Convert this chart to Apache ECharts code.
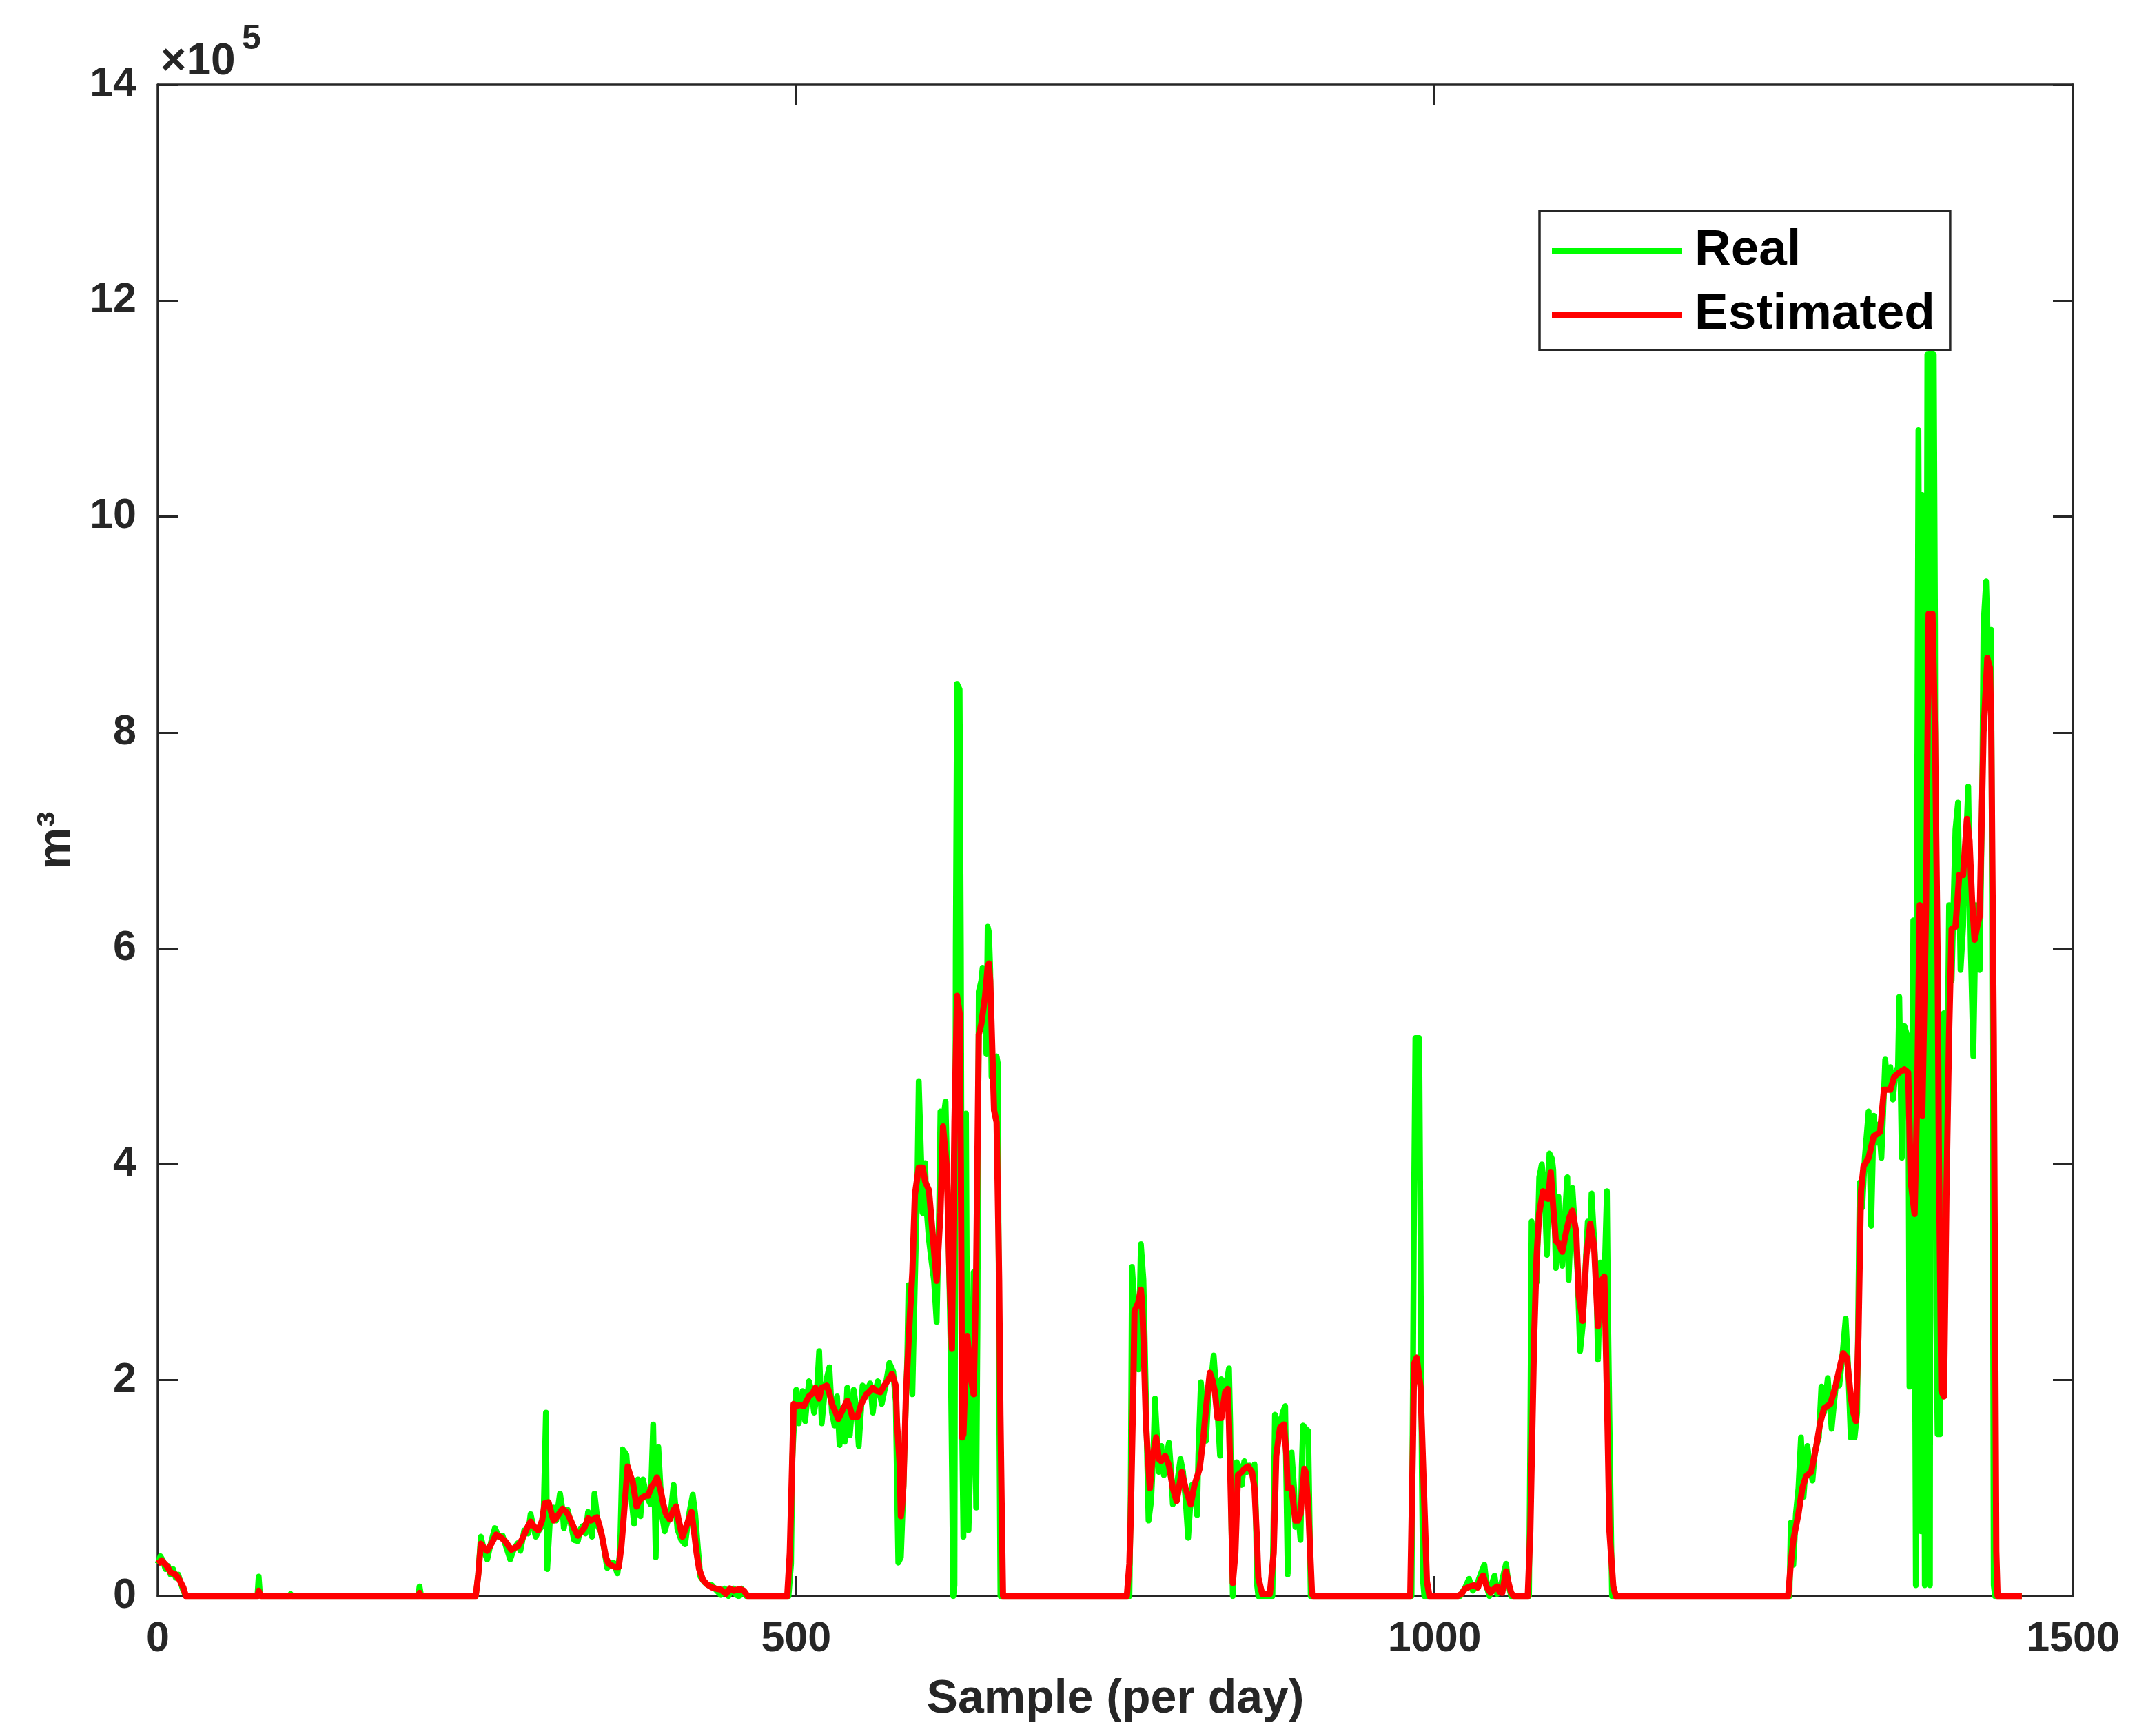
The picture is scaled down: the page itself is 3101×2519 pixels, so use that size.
<!DOCTYPE html>
<html>
<head>
<meta charset="utf-8">
<script src="https://cdn.jsdelivr.net/npm/echarts@6/dist/echarts.min.js"></script>
<style>
html,body{margin:0;padding:0;background:#fff;}
#chart{width:3101px;height:2519px;}
</style>
</head>
<body>
<div id="chart"></div>
<script>
// Values in units of 1e5 m^3, as [sample, value]
const xTicks = [0, 500, 1000, 1500];
const yTicks = [0, 2, 4, 6, 8, 10, 12, 14];
const seriesNames = ['Real', 'Estimated'];

const realPoints = [
[0,0.30],[2,0.37],[4,0.33],[6,0.25],[8,0.28],[10,0.20],[12,0.25],[14,0.17],[16,0.20],[18,0.12],[20,0.05],[22,0],
[78,0],[79,0.18],[80,0.02],[81,0],[103,0],[104,0.02],[105,0],[154,0],[155,0.01],[156,0],
[204,0],[205,0.09],[206,0.02],[207,0],
[249,0],[251,0.2],[253,0.55],[256,0.40],[258,0.34],[261,0.50],[264,0.63],[267,0.55],[270,0.56],[273,0.45],[276,0.34],[279,0.44],
[282,0.49],[284,0.42],[287,0.61],[290,0.58],[292,0.76],[294,0.65],[296,0.55],[299,0.62],[302,0.66],[304,1.70],[305,0.25],[307,0.68],
[310,0.82],[312,0.70],[315,0.95],[317,0.80],[318,0.63],[321,0.80],[323,0.70],[326,0.52],[329,0.51],[331,0.62],[333,0.65],[335,0.58],
[337,0.78],[339,0.70],[340,0.55],[342,0.95],[345,0.64],[347,0.60],[349,0.48],[352,0.26],[355,0.30],[357,0.31],[360,0.21],[362,0.40],
[364,1.36],[367,1.31],[369,1.00],[371,0.90],[373,0.67],[376,1.08],[378,0.74],[380,1.08],[383,0.92],[386,0.85],[388,1.59],[390,0.36],
[392,1.38],[395,0.74],[397,0.60],[400,0.72],[402,0.80],[404,1.03],[407,0.62],[410,0.52],[413,0.48],[416,0.75],[419,0.94],[421,0.75],
[423,0.45],[425,0.18],[428,0.13],[431,0.10],[434,0.10],[437,0.06],[441,0.01],[444,0.07],[447,0],[449,0.05],[451,0.07],[453,0.01],
[455,0],[457,0.07],[459,0.02],[461,0],
[494,0],[496,0.3],[497,1.28],[499,1.76],[500,1.91],[502,1.60],[505,1.90],[507,1.62],[510,1.99],[512,1.90],[514,1.70],[516,1.85],
[518,2.27],[520,1.60],[522,1.85],[524,2.02],[526,2.12],[528,1.70],[530,1.58],[532,1.85],[534,1.40],[536,1.74],[538,1.43],[540,1.93],
[542,1.49],[545,1.91],[547,1.75],[549,1.39],[552,1.95],[555,1.90],[558,1.97],[560,1.70],[562,1.90],[564,1.99],[567,1.78],[570,1.95],
[573,2.16],[576,2.08],[578,1.80],[579,1.03],[580,0.31],[582,0.36],[584,1.0],[585,1.45],[587,2.2],[588,2.88],[590,2.4],[591,1.87],
[593,2.92],[595,3.9],[596,4.77],[598,4.0],[599,3.55],[601,4.01],[602,3.6],[604,3.30],[606,3.1],[608,2.92],[610,2.54],[612,3.6],
[613,4.49],[615,4.4],[617,4.58],[619,3.55],[621,2.29],[622,1.2],[623,0],[624,0.1],[625,6.0],[626,8.45],[628,8.4],[629,6.0],
[630,1.5],[631,0.55],[632,2.5],[633,4.47],[634,2.0],[635,0.61],[637,1.5],[639,3.0],[640,2.0],[641,0.82],[642,2.5],[643,5.6],
[645,5.7],[646,5.82],[648,5.4],[649,5.02],[650,6.2],[651,6.15],[652,5.8],[653,4.81],[655,4.9],[657,5.0],[658,4.93],[659,1.87],[660,0],
[761,0],[762,0.9],[763,3.05],[765,2.7],[766,2.72],[768,2.1],[770,3.26],[772,2.93],[774,1.8],[776,0.70],[778,0.88],[780,1.4],
[781,1.83],[783,1.4],[784,1.15],[786,1.39],[788,1.12],[790,1.3],[792,1.42],[794,1.1],[795,0.85],[797,0.91],[799,1.1],[801,1.27],
[803,1.15],[805,0.9],[807,0.54],[809,0.9],[810,1.03],[812,1.0],[814,0.75],[815,1.3],[817,1.98],[819,1.7],[821,1.44],[823,1.89],
[825,2.0],[827,2.23],[829,1.9],[830,1.71],[832,1.30],[833,2.01],[836,1.9],[839,2.11],[840,1.59],[841,0.6],[842,0],[843,0.5],
[845,1.24],[847,1.2],[849,1.03],[851,1.25],[853,1.15],[855,1.21],[857,1.15],[859,1.22],[860,0.8],[861,0.1],[862,0],
[873,0],[874,0.8],[875,1.68],[877,1.62],[879,1.55],[881,1.7],[883,1.76],[884,1.0],[885,0.2],[886,0.9],[888,1.33],[890,1.0],
[891,0.64],[893,0.8],[895,0.52],[896,1.2],[897,1.58],[899,1.55],[901,1.53],[902,0.8],[903,0],
[982,0],[984,3.73],[985,5.17],[988,5.17],[989,3.27],[990,1.22],[991,0.14],[992,0],
[1020,0],[1024,0.08],[1027,0.16],[1030,0.05],[1033,0.10],[1036,0.20],[1039,0.29],[1041,0.08],[1043,0],[1045,0.12],[1047,0.19],
[1049,0.02],[1051,0.05],[1054,0.2],[1056,0.30],[1058,0.1],[1060,0],
[1074,0],[1075,1.5],[1076,3.47],[1078,3.2],[1080,2.91],[1082,3.88],[1084,4.0],[1085,3.9],[1087,3.5],[1088,3.16],[1090,4.1],
[1092,4.05],[1093,3.95],[1095,3.04],[1097,3.7],[1098,3.3],[1100,3.06],[1102,3.5],[1104,3.88],[1105,2.93],[1107,3.5],[1108,3.78],
[1110,3.4],[1112,3.0],[1114,2.27],[1116,2.5],[1118,3.0],[1120,3.47],[1122,3.3],[1123,3.73],[1125,3.3],[1127,2.8],[1128,2.19],
[1130,3.09],[1132,2.6],[1133,2.9],[1135,3.75],[1136,2.5],[1137,1.62],[1139,0],
[1278,0],[1279,0.68],[1281,0.29],[1283,0.76],[1285,1.0],[1287,1.47],[1289,0.92],[1292,1.39],[1294,1.2],[1296,1.07],[1298,1.35],
[1301,1.47],[1303,1.94],[1305,1.70],[1308,2.02],[1311,1.55],[1313,1.8],[1315,2.02],[1317,1.95],[1319,2.17],[1322,2.57],[1324,2.1],
[1326,1.47],[1329,1.47],[1331,1.70],[1333,3.83],[1335,3.6],[1337,4.06],[1340,4.49],[1342,3.43],[1344,4.45],[1346,4.2],[1348,4.37],
[1350,4.06],[1353,4.97],[1355,4.7],[1357,4.9],[1359,4.6],[1361,4.85],[1363,4.9],[1364,5.55],[1366,4.06],[1368,5.28],[1371,5.16],
[1372,1.94],[1374,3.47],[1375,6.26],[1376,3.5],[1377,0.1],[1378,7.2],[1379,10.8],[1380,8.0],[1381,0.6],[1382,10.2],[1383,5.0],
[1384,0.1],[1385,6.0],[1386,11.5],[1387,6.0],[1388,0.1],[1389,11.55],[1390,4.6],[1391,11.5],[1392,9.0],[1393,2.6],[1394,1.5],
[1395,2.0],[1396,1.5],[1397,3.0],[1399,5.4],[1401,4.0],[1403,6.4],[1405,5.7],[1408,7.1],[1410,7.35],[1412,5.8],[1414,6.2],
[1416,6.9],[1418,7.5],[1420,6.0],[1422,5.0],[1424,6.4],[1426,6.2],[1427,5.8],[1429,7.5],[1430,9.0],[1432,9.4],[1434,8.6],
[1436,8.95],[1437,5.0],[1438,0.1],[1439,0],[1460,0]
];

const estimatedPoints = [
[0,0.30],[3,0.33],[7,0.28],[10,0.22],[14,0.20],[17,0.15],[20,0.08],[22,0],
[78,0],[79,0.05],[80,0.02],[81,0],[204,0],[205,0.03],[206,0],
[249,0],[251,0.2],[253,0.485],[256,0.44],[258,0.42],[262,0.50],[265,0.57],[268,0.55],[272,0.51],[275,0.46],[277,0.43],[280,0.45],
[282,0.46],[285,0.52],[287,0.57],[290,0.65],[292,0.69],[295,0.64],[298,0.61],[301,0.70],[303,0.86],[306,0.87],[308,0.78],[310,0.70],
[313,0.74],[317,0.81],[320,0.78],[322,0.74],[326,0.63],[329,0.56],[332,0.60],[334,0.63],[337,0.72],[339,0.70],[341,0.71],[344,0.73],
[346,0.65],[348,0.55],[351,0.36],[353,0.30],[356,0.28],[358,0.27],[361,0.27],[363,0.45],[365,0.74],[368,1.20],[370,1.12],[372,1.06],
[375,0.83],[377,0.88],[379,0.91],[382,0.93],[384,0.93],[387,1.02],[389,1.05],[391,1.10],[394,0.97],[396,0.85],[398,0.76],[401,0.71],
[404,0.80],[406,0.83],[408,0.70],[411,0.55],[414,0.65],[418,0.78],[420,0.60],[422,0.40],[424,0.25],[427,0.15],[430,0.11],[434,0.08],
[437,0.07],[441,0.06],[445,0.02],[448,0.07],[451,0.05],[454,0.06],[457,0.06],[459,0.05],[462,0],
[493,0],[495,0.40],[497,1.3],[498,1.78],[500,1.76],[503,1.77],[506,1.76],[510,1.85],[513,1.88],[515,1.93],[518,1.83],[520,1.93],
[524,1.95],[526,1.88],[528,1.78],[531,1.70],[533,1.64],[537,1.74],[540,1.81],[542,1.75],[544,1.66],[548,1.66],[551,1.78],[555,1.87],
[558,1.90],[560,1.93],[563,1.90],[566,1.89],[569,1.95],[572,2.00],[575,2.06],[578,1.95],[579,1.6],[581,1.24],[582,0.74],[583,0.85],
[584,1.03],[586,1.87],[589,2.58],[591,3.0],[593,3.72],[596,3.97],[599,3.97],[601,3.84],[604,3.76],[607,3.34],[610,2.92],[613,3.55],
[615,4.35],[618,3.97],[620,3.0],[622,2.29],[624,4.39],[626,5.56],[628,5.40],[629,4.0],[630,1.47],[631,1.5],[633,2.2],[634,2.41],
[637,2.0],[639,1.87],[641,3.0],[643,5.2],[645,5.3],[648,5.56],[650,5.83],[651,5.86],[652,5.7],[654,4.9],[655,4.5],[657,4.39],
[659,2.92],[660,1.67],[661,0.8],[662,0],
[759,0],[761,0.3],[762,0.70],[764,1.89],[765,2.64],[768,2.72],[770,2.84],[771,2.7],[772,2.4],[774,1.59],[777,1.0],[779,1.27],
[782,1.47],[784,1.27],[786,1.25],[789,1.30],[792,1.21],[795,1.0],[798,0.88],[802,1.15],[805,1.0],[809,0.85],[812,1.03],[816,1.18],
[819,1.47],[821,1.74],[824,2.07],[826,2.0],[828,1.89],[830,1.65],[833,1.65],[836,1.89],[838,1.92],[839,1.6],[840,1.15],[842,0.12],
[844,0.40],[846,1.12],[849,1.15],[851,1.18],[854,1.2],[857,1.15],[859,1.0],[861,0.5],[862,0.17],[865,0.02],[871,0.02],[874,0.40],
[876,1.30],[879,1.56],[882,1.59],[884,1.3],[885,1.0],[888,1.0],[891,0.70],[893,0.7],[895,0.76],[898,1.18],[899,1.15],[901,0.85],
[903,0.3],[904,0.02],[905,0],
[981,0],[983,1.36],[984,2.15],[986,2.21],[987,2.2],[989,1.94],[991,1.22],[993,0.50],[994,0.14],[996,0],
[1018,0],[1021,0.02],[1024,0.07],[1028,0.09],[1031,0.10],[1034,0.08],[1036,0.15],[1038,0.19],[1041,0.08],[1044,0.03],[1047,0.07],
[1049,0.09],[1051,0.04],[1053,0.03],[1056,0.23],[1058,0.12],[1060,0.03],[1062,0],
[1073,0],[1075,0.6],[1078,2.39],[1080,3.16],[1082,3.55],[1085,3.75],[1087,3.70],[1089,3.68],[1091,3.93],[1093,3.6],[1095,3.29],
[1097,3.27],[1100,3.19],[1103,3.37],[1106,3.52],[1108,3.57],[1111,3.37],[1113,2.78],[1116,2.55],[1119,3.16],[1122,3.45],[1125,3.24],
[1128,2.50],[1130,2.91],[1133,2.96],[1135,1.88],[1137,0.6],[1140,0.09],[1142,0],
[1277,0],[1279,0.3],[1281,0.52],[1285,0.76],[1288,1.0],[1291,1.11],[1295,1.15],[1299,1.39],[1302,1.6],[1305,1.74],[1310,1.78],
[1314,1.94],[1317,2.1],[1320,2.25],[1323,2.21],[1326,1.85],[1328,1.70],[1330,1.62],[1332,2.41],[1334,3.75],[1336,3.98],[1340,4.06],
[1344,4.26],[1349,4.30],[1352,4.69],[1357,4.69],[1360,4.81],[1364,4.85],[1368,4.88],[1371,4.85],[1373,3.84],[1376,3.54],[1378,4.6],
[1380,6.4],[1382,4.45],[1385,6.4],[1387,9.1],[1390,9.1],[1392,8.0],[1394,5.95],[1395,4.1],[1397,1.9],[1399,1.85],[1401,3.77],
[1403,5.2],[1405,6.18],[1408,6.2],[1411,6.68],[1414,6.68],[1417,7.2],[1419,7.0],[1421,6.45],[1423,6.08],[1425,6.2],[1427,6.3],
[1430,8.0],[1433,8.69],[1435,8.6],[1436,8.1],[1438,5.2],[1439,2.8],[1440,0.41],[1441,0],[1460,0]
];

const AX = '#262626';
const FONT = 'Liberation Sans, Arial, Helvetica, sans-serif';
const chart = echarts.init(document.getElementById('chart'), null, {renderer: 'canvas'});

const tickStyle = {show: true, inside: true, length: 29, lineStyle: {color: AX, width: 3}};
const lineStyleAx = {show: true, onZero: false, lineStyle: {color: AX, width: 3.5}};
const plain = v => String(v);

chart.setOption({
  backgroundColor: '#ffffff',
  animation: false,
  grid: {left: 229, right: 93, top: 123, bottom: 203, containLabel: false},
  legend: {
    orient: 'vertical',
    left: 2234, top: 306,
    padding: [18, 22, 11, 18],
    itemGap: 13,
    itemWidth: 189, itemHeight: 8,
    icon: 'rect',
    borderColor: AX, borderWidth: 3.5,
    backgroundColor: '#ffffff',
    textStyle: {fontFamily: FONT, fontWeight: 'bold', fontSize: 73, color: '#000', lineHeight: 80, padding: [0,0,0,13]},
    data: seriesNames
  },
  xAxis: [{
    type: 'value', position: 'bottom', min: xTicks[0], max: xTicks[xTicks.length-1], interval: 500,
    axisLine: lineStyleAx, axisTick: tickStyle, splitLine: {show: false},
    axisLabel: {color: AX, fontFamily: FONT, fontWeight: 'bold', fontSize: 61, margin: 33, formatter: plain},
    name: 'Sample (per day)', nameLocation: 'middle', nameGap: 116,
    nameTextStyle: {color: AX, fontFamily: FONT, fontWeight: 'bold', fontSize: 68}
  }, {
    type: 'value', position: 'top', min: xTicks[0], max: xTicks[xTicks.length-1], interval: 500,
    axisLine: lineStyleAx, axisTick: tickStyle, axisLabel: {show: false}, splitLine: {show: false}
  }],
  yAxis: [{
    type: 'value', position: 'left', min: yTicks[0], max: yTicks[yTicks.length-1], interval: 2,
    axisLine: lineStyleAx, axisTick: tickStyle, splitLine: {show: false},
    axisLabel: {color: AX, fontFamily: FONT, fontWeight: 'bold', fontSize: 61, margin: 31, formatter: plain},
    name: 'm³', nameLocation: 'middle', nameGap: 112, nameRotate: 90,
    nameTextStyle: {color: AX, fontFamily: FONT, fontWeight: 'bold', fontSize: 69}
  }, {
    type: 'value', position: 'right', min: yTicks[0], max: yTicks[yTicks.length-1], interval: 2,
    axisLine: lineStyleAx, axisTick: tickStyle, axisLabel: {show: false}, splitLine: {show: false}
  }],
  graphic: [
    {type: 'text', left: 233, top: 58, style: {text: '×10', fontFamily: FONT, fontWeight: 'bold', fontSize: 64, fill: AX}},
    {type: 'text', left: 351, top: 32, style: {text: '5', fontFamily: FONT, fontWeight: 'bold', fontSize: 50, fill: AX}}
  ],
  series: [{
    name: seriesNames[0], type: 'line', data: realPoints, showSymbol: false, symbol: 'none',
    xAxisIndex: 0, yAxisIndex: 0,
    lineStyle: {color: '#00ff00', width: 8.5, join: 'round'}, itemStyle: {color: '#00ff00'}, z: 2
  }, {
    name: seriesNames[1], type: 'line', data: estimatedPoints, showSymbol: false, symbol: 'none',
    xAxisIndex: 0, yAxisIndex: 0,
    lineStyle: {color: '#ff0000', width: 9, join: 'round'}, itemStyle: {color: '#ff0000'}, z: 3
  }]
});
</script>
</body>
</html>
